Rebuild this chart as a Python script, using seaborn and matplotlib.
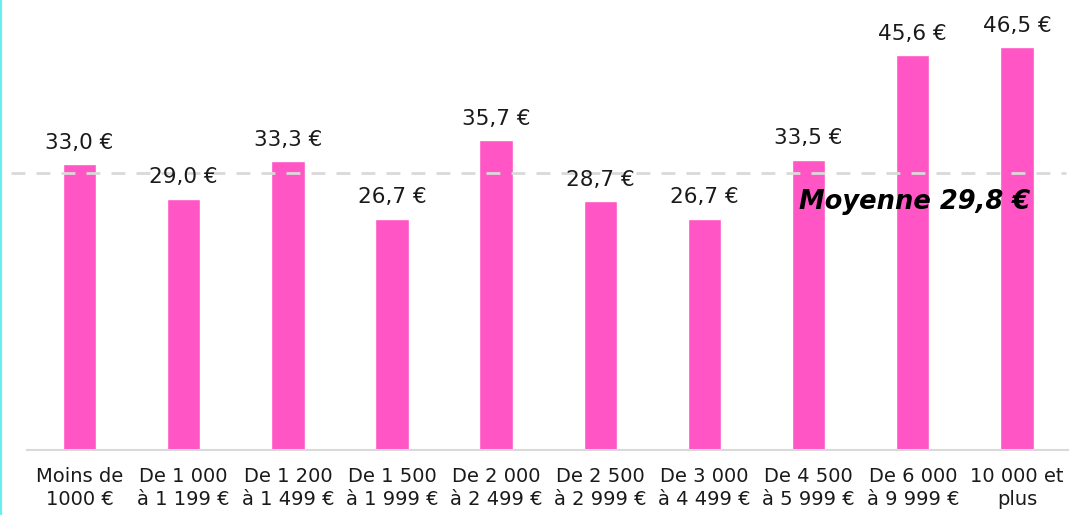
import matplotlib
matplotlib.use("Agg")
import matplotlib.pyplot as plt
import seaborn as sns
import pandas as pd
from matplotlib.lines import Line2D

categories = ["Moins de\n1000 €", "De 1 000\nà 1 199 €", "De 1 200\nà 1 499 €", "De 1 500\nà 1 999 €",
              "De 2 000\nà 2 499 €", "De 2 500\nà 2 999 €", "De 3 000\nà 4 499 €", "De 4 500\nà 5 999 €",
              "De 6 000\nà 9 999 €", "10 000 et\nplus"]
values = [33.0, 29.0, 33.3, 26.7, 35.7, 28.7, 26.7, 33.5, 45.6, 46.5]
mean_label = "Moyenne 29,8 €"
mean_line_level = 31.9  # where the dashed reference line is drawn in the original

sns.set_theme(style="white")
plt.rcParams['font.family'] = ['DejaVu Sans']

df = pd.DataFrame({"cat": categories, "val": values})
fig = plt.figure(figsize=(10.69, 5.15), dpi=100)
ax = fig.add_axes([0.0257, 0.126, 0.9743, 0.842])

sns.barplot(data=df, x="cat", y="val", color="#FF55C5", width=0.32, saturation=1, ax=ax, zorder=2)

ax.set_ylim(0, 50)
ax.set_xlim(-0.5, 9.5)
ax.axhline(mean_line_level, xmin=-0.016, xmax=0.997, color="#D9D9D9", lw=2, dashes=(5, 4), zorder=3, clip_on=False)

for i, v in enumerate(values):
    ax.annotate(f"{v:.1f} €".replace(".", ","), (i, v), xytext=(0, 8), textcoords="offset points",
                ha="center", va="bottom", fontsize=15.5, color="#1a1a1a", zorder=4)

ax.text(8.02, 28.6, mean_label, ha="center", va="center", fontsize=18.5, fontweight="bold",
        fontstyle="italic", color="black", zorder=5)

for s in ["top", "right", "left"]:
    ax.spines[s].set_visible(False)
ax.spines["bottom"].set_color("#D9D9D9")
ax.spines["bottom"].set_linewidth(1.5)
ax.set_yticks([])
ax.set_xlabel("")
ax.set_ylabel("")
ax.tick_params(axis="x", length=0, labelsize=14, colors="#1a1a1a", pad=12)
for lbl in ax.get_xticklabels():
    lbl.set_linespacing(1.3)

fig.add_artist(Line2D([0.001, 0.001], [0, 1], color="#66F0F0", lw=1.5, transform=fig.transFigure))

fig.savefig("out.png", dpi=100)
